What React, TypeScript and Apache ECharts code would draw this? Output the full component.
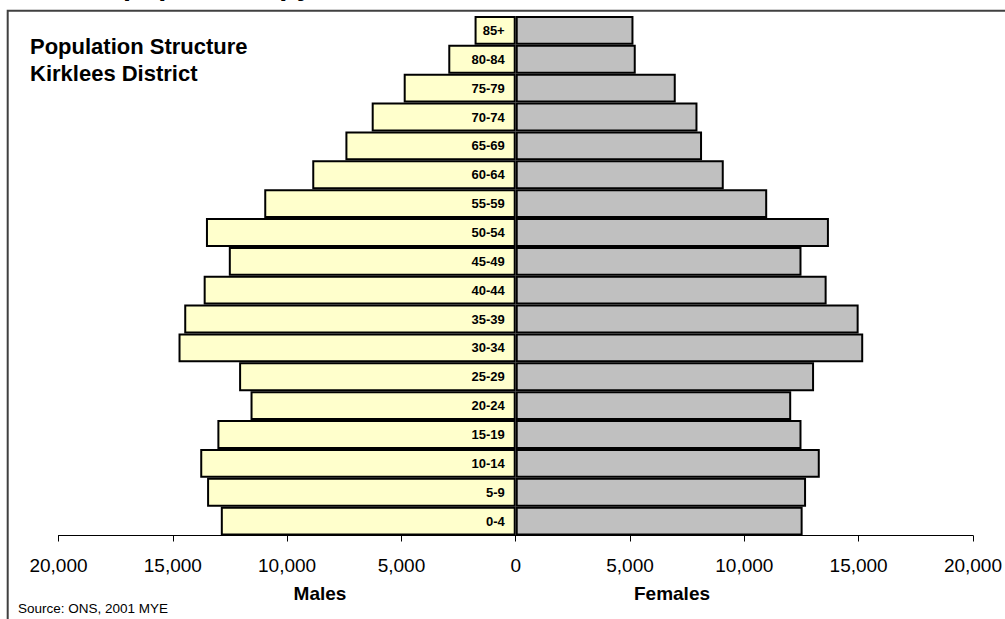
import React, { useEffect, useRef } from "react";
import * as echarts from "echarts";

const ageGroups = [
  "0-4", "5-9", "10-14", "15-19", "20-24", "25-29", "30-34", "35-39", "40-44",
  "45-49", "50-54", "55-59", "60-64", "65-69", "70-74", "75-79", "80-84", "85+",
];
const males = [
  12900, 13500, 13800, 13050, 11600, 12100, 14750, 14500, 13650,
  12550, 13550, 11000, 8900, 7450, 6300, 4900, 2950, 1800,
];
const females = [
  12550, 12700, 13300, 12500, 12050, 13050, 15200, 15000, 13600,
  12500, 13700, 11000, 9100, 8150, 7950, 7000, 5250, 5150,
];
const axisMin = -20000;
const axisMax = 20000;
const axisStep = 5000;

const FONT = "'Liberation Sans', Arial, Helvetica, sans-serif";

export default function App() {
  const ref = useRef<HTMLDivElement>(null);
  useEffect(() => {
    if (!ref.current) return;
    const chart = echarts.init(ref.current, null, { renderer: "svg" });
    chart.setOption({
      animation: false,
      backgroundColor: "#ffffff",
      grid: { left: 58.5, right: 30, top: 16, bottom: 83.5, containLabel: false },
      xAxis: {
        type: "value",
        min: axisMin,
        max: axisMax,
        interval: axisStep,
        splitLine: { show: false },
        axisLine: { show: true, lineStyle: { color: "#000", width: 1 } },
        axisTick: { show: true, length: 6, lineStyle: { color: "#000", width: 1 } },
        axisLabel: {
          margin: 20,
          color: "#000",
          fontFamily: FONT,
          fontSize: 19,
          formatter: (v: number) => Math.abs(v).toLocaleString("en-US"),
        },
      },
      yAxis: {
        type: "category",
        data: ageGroups,
        axisLine: { show: false },
        axisTick: { show: false },
        axisLabel: { show: false },
        splitLine: { show: false },
      },
      series: [
        {
          name: "Males",
          type: "bar",
          stack: "pop",
          data: males.map((v) => -v),
          barCategoryGap: "0%",
          itemStyle: { color: "#FFFFCC", borderColor: "#000", borderWidth: 2 },
        },
        {
          name: "Females",
          type: "bar",
          stack: "pop",
          data: females,
          barCategoryGap: "0%",
          itemStyle: { color: "#C0C0C0", borderColor: "#000", borderWidth: 2 },
          label: {
            show: true,
            position: "left",
            distance: 11,
            formatter: (p: any) => p.name,
            color: "#000",
            fontFamily: FONT,
            fontWeight: "bold",
            fontSize: 13,
          },
        },
      ],
      graphic: [
        {
          type: "rect",
          silent: true,
          shape: { x: 7.7, y: 10.7, width: 1100, height: 700 },
          style: { fill: "none", stroke: "#404040", lineWidth: 2 },
          z: 100,
        },
        {
          type: "text",
          x: 2,
          y: -15,
          style: {
            text: "Kirklees population pyramid",
            fontFamily: FONT,
            fontWeight: "bold",
            fontSize: 29,
            fill: "#000",
            align: "left",
            verticalAlign: "middle",
          },
        },
        {
          type: "text",
          x: 30,
          y: 46.7,
          style: {
            text: "Population Structure",
            fontFamily: FONT,
            fontWeight: "bold",
            fontSize: 22,
            fill: "#000",
            align: "left",
            verticalAlign: "middle",
          },
        },
        {
          type: "text",
          x: 30,
          y: 73.4,
          style: {
            text: "Kirklees District",
            fontFamily: FONT,
            fontWeight: "bold",
            fontSize: 22,
            fill: "#000",
            align: "left",
            verticalAlign: "middle",
          },
        },
        {
          type: "text",
          x: 320,
          y: 593.4,
          style: {
            text: "Males",
            fontFamily: FONT,
            fontWeight: "bold",
            fontSize: 19,
            fill: "#000",
            align: "center",
            verticalAlign: "middle",
          },
        },
        {
          type: "text",
          x: 672,
          y: 593.4,
          style: {
            text: "Females",
            fontFamily: FONT,
            fontWeight: "bold",
            fontSize: 19,
            fill: "#000",
            align: "center",
            verticalAlign: "middle",
          },
        },
        {
          type: "text",
          x: 18,
          y: 608.6,
          style: {
            text: "Source: ONS, 2001 MYE",
            fontFamily: FONT,
            fontSize: 13.5,
            fill: "#000",
            align: "left",
            verticalAlign: "middle",
          },
        },
      ],
    });
    return () => chart.dispose();
  }, []);
  return (
    <div
      ref={ref}
      style={{ position: "absolute", left: 0, top: 0, width: 1005, height: 619 }}
    />
  );
}
